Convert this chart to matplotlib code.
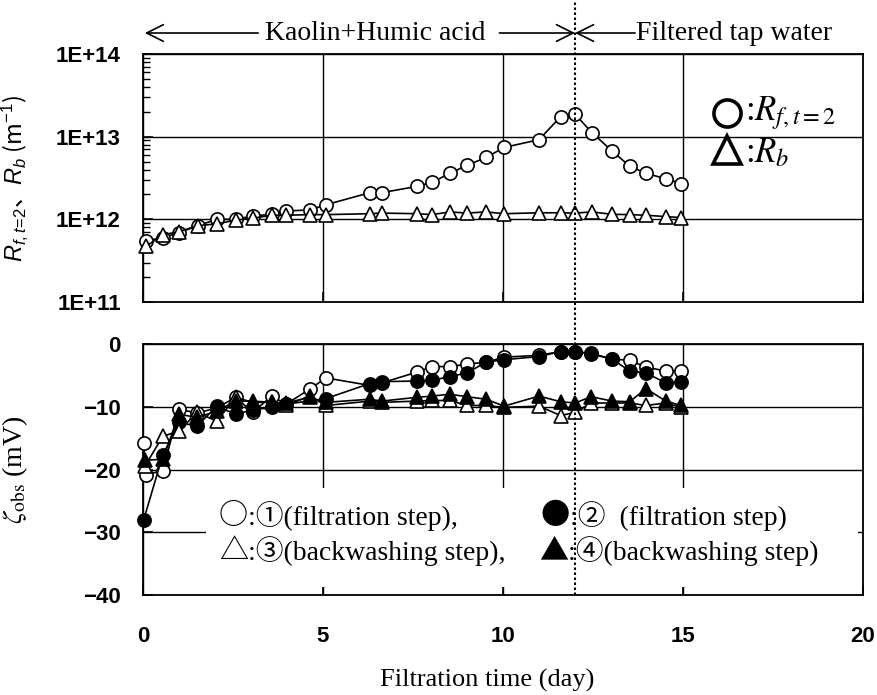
import numpy as np
import matplotlib
matplotlib.use("Agg")
import matplotlib.pyplot as plt
import matplotlib.transforms as mtransforms
from matplotlib.lines import Line2D
from matplotlib.patches import Rectangle
from matplotlib.ticker import LogLocator, NullFormatter

plt.rcParams['mathtext.rm'] = 'Liberation Sans'
plt.rcParams['mathtext.it'] = 'Liberation Sans:italic'
plt.rcParams['mathtext.bf'] = 'Liberation Sans:bold'
plt.rcParams['font.family'] = ['Liberation Sans', 'DejaVu Sans']

# ---------------- data ----------------
x_ticks = [0, 5, 10, 15, 20]
x_ticklabels = ['0', '5', '10', '15', '20']
r_ticks = [1e11, 1e12, 1e13, 1e14]
r_ticklabels = ['1E+11', '1E+12', '1E+13', '1E+14']
z_ticks = [-40, -30, -20, -10, 0]
z_ticklabels = ['\u221240', '\u221230', '\u221220', '\u221210', '0']

days_top = [0.08, 0.55, 1.0, 1.53, 2.05, 2.57, 3.05, 3.57, 3.97, 4.63, 5.08, 6.3, 6.63,
            7.6, 8.03, 8.52, 9.0, 9.53, 10.03, 11.0, 11.6, 12.0, 12.47, 13.03, 13.52,
            13.97, 14.52, 14.95]
Rf = [5.5e11, 6.0e11, 6.9e11, 8.4e11, 1.0e12, 1.0e12, 1.1e12, 1.15e12, 1.26e12, 1.3e12,
      1.5e12, 2.1e12, 2.1e12, 2.5e12, 2.8e12, 3.6e12, 4.5e12, 5.6e12, 7.4e12, 9.2e12,
      1.74e13, 1.87e13, 1.12e13, 6.7e12, 4.4e12, 3.6e12, 3.1e12, 2.7e12]
Rb = [4.7e11, 6.5e11, 7.1e11, 8.4e11, 8.8e11, 9.8e11, 1.03e12, 1.12e12, 1.12e12, 1.14e12,
      1.14e12, 1.17e12, 1.19e12, 1.17e12, 1.14e12, 1.23e12, 1.19e12, 1.23e12, 1.17e12,
      1.2e12, 1.2e12, 1.19e12, 1.23e12, 1.15e12, 1.14e12, 1.12e12, 1.08e12, 1.05e12]

days_s1 = [0.02, 0.08, 0.55, 1.0, 1.5, 2.05, 2.57, 3.05, 3.57, 3.97, 4.63, 5.08, 6.3, 6.63,
           7.6, 8.03, 8.52, 9.0, 9.53, 10.03, 11.0, 11.6, 12.0, 12.45, 13.03, 13.52, 13.97,
           14.52, 14.95]
zeta_s1 = [-15.7, -20.8, -20.2, -10.4, -11.0, -10.2, -8.5, -10.9, -8.3, -9.6, -7.2, -5.4,
           -6.6, -6.2, -4.5, -3.6, -3.6, -3.2, -2.9, -2.1, -1.8, -1.2, -1.2, -1.5, -2.4,
           -2.6, -3.7, -4.3, -4.3]

days_s2 = [0.02, 0.55, 1.0, 1.5, 2.05, 2.57, 3.05, 3.57, 3.97, 5.08, 6.3, 6.63, 7.6, 8.03,
           8.52, 9.0, 9.53, 10.03, 11.0, 11.6, 12.0, 12.45, 13.03, 13.52, 13.97, 14.52, 14.95]
zeta_s2 = [-28.0, -17.7, -12.5, -13.1, -9.9, -11.2, -10.5, -10.1, -9.6, -8.7, -6.3, -6.0,
           -5.9, -5.8, -5.2, -4.6, -2.9, -2.5, -2.0, -1.2, -1.2, -1.6, -2.4, -4.3, -4.6,
           -6.2, -6.1]

days_s34 = [0.05, 0.55, 1.0, 1.5, 2.05, 2.57, 3.05, 3.57, 3.97, 4.63, 5.08, 6.3, 6.63, 7.6,
            8.03, 8.52, 9.0, 9.53, 10.03, 11.0, 11.6, 12.0, 12.45, 13.03, 13.52, 13.97,
            14.52, 14.95]
zeta_s3 = [-19.5, -14.7, -13.9, -10.9, -12.3, -8.5, -9.3, -9.3, -9.8, -8.3, -9.8, -9.1,
           -9.3, -9.1, -9.0, -9.0, -9.8, -9.8, -10.1, -9.9, -11.4, -10.9, -9.4, -9.4, -9.4,
           -9.8, -9.4, -10.1]
zeta_s4 = [-18.5, -18.4, -11.2, -11.7, -10.7, -9.1, -9.1, -9.3, -9.4, -8.5, -9.3, -8.8,
           -9.1, -8.5, -8.3, -8.0, -8.4, -8.8, -9.9, -8.3, -9.2, -9.4, -8.4, -9.1, -9.2,
           -7.1, -9.1, -9.8]

switch_day = 12

# ---------------- figure ----------------
W, H = 878, 695
fig = plt.figure(figsize=(W / 100, H / 100), dpi=100)
ax1 = fig.add_axes([143 / W, 1 - 302 / H, 720 / W, 248 / H])
ax2 = fig.add_axes([143 / W, 1 - 595 / H, 720 / W, 251 / H])

def ftxt(x, y, s, **kw):
    return fig.text(x / W, 1 - y / H, s, **kw)

def fmark(x, y, marker, ms, **kw):
    fig.add_artist(Line2D([x / W], [1 - y / H], transform=fig.transFigure, marker=marker,
                          ms=ms, ls='none', **kw))

mk = dict(color='black', lw=1.2, mec='black', mew=1.2, clip_on=False)

# top panel
ax1.plot(days_top, Rf, marker='o', ms=9.5, mfc='white', zorder=3, **mk)
ax1.plot(days_top, Rb, marker='^', ms=10, mfc='white', zorder=4, **mk)
ax1.set_yscale('log')
ax1.set_ylim(1e11, 1e14)
ax1.set_xlim(0, 20)
ax1.set_yticks(r_ticks, labels=r_ticklabels, fontweight='bold', fontsize=16,
               fontfamily='Liberation Sans')
ax1.yaxis.set_minor_locator(LogLocator(base=10, subs=np.arange(2, 10), numticks=20))
ax1.yaxis.set_minor_formatter(NullFormatter())
ax1.set_xticks(x_ticks)
ax1.tick_params(axis='both', which='both', direction='in')
ax1.tick_params(axis='y', which='major', length=7, width=1.2, pad=16)
ax1.tick_params(axis='y', which='minor', length=5, width=1)
ax1.tick_params(axis='x', length=7, width=1.2, labelbottom=False)
ax1.grid(True, which='major', color='black', lw=1)
ax1.set_ylabel(r'$R_{f,t\!=\!2}$、$R_b$ (m$^{\mathrm{-1}}$)', fontsize=17,
               family='Noto Sans CJK JP', math_fontfamily='custom')
ax1.yaxis.set_label_coords((30 - 143) / 720, 0.5)

# bottom panel
ax2.plot(days_s1, zeta_s1, marker='o', ms=9.5, mfc='white', zorder=3, **mk)
ax2.plot(days_s2, zeta_s2, marker='o', ms=9.5, mfc='black', zorder=4, **mk)
ax2.plot(days_s34, zeta_s3, marker='^', ms=10, mfc='white', zorder=5, **mk)
ax2.plot(days_s34, zeta_s4, marker='^', ms=10, mfc='black', zorder=6, **mk)
ax2.set_xlim(0, 20)
ax2.set_ylim(-40, 0)
ax2.set_xticks(x_ticks, labels=x_ticklabels, fontweight='bold', fontsize=16,
               fontfamily='Liberation Sans')
ax2.set_yticks(z_ticks, labels=z_ticklabels, fontweight='bold', fontsize=16,
               fontfamily='Liberation Sans')
ax2.tick_params(axis='both', direction='in', length=7, width=1.2)
ax2.tick_params(axis='x', pad=22)
ax2.tick_params(axis='y', pad=16)
ax2.grid(True, color='black', lw=1)
ax2.set_ylabel(r'$\zeta_{\mathrm{obs}}$ (mV)', fontsize=20, family='Liberation Serif',
               math_fontfamily='stix')
ax2.yaxis.set_label_coords((30 - 143) / 720, 0.5)

for ax in (ax1, ax2):
    for sp in ax.spines.values():
        sp.set_linewidth(1.3)
        sp.set_color('black')

# legend box of bottom panel (white, hides grid)
ax2.add_patch(Rectangle((63 / 720, 8 / 251), 652 / 720, 99 / 251, transform=ax2.transAxes,
                        facecolor='white', edgecolor='none', zorder=2.6))
serif_cjk = ['Liberation Serif', 'Noto Sans CJK JP']
sym = dict(fontsize=21, family=['Noto Sans CJK JP'], va='center', zorder=7)
txt = dict(fontsize=20, family=serif_cjk, va='center', zorder=7)
ftxt(219, 516, '○', **sym)
ftxt(248, 516, ':①(filtration step),', **txt)
ftxt(541, 516, '●', **sym)
ftxt(570, 516, ':②  (filtration step)', **txt)
ftxt(219, 551, '△', **sym)
ftxt(248, 551, ':③(backwashing step),', **txt)
ftxt(539, 551, '▲', **sym)
ftxt(568, 551, ':④(backwashing step)', **txt)

# top-right legend
fmark(727, 113, 'o', 19.5, mfc='white', mec='black', mew=2.6)
fmark(727, 150, '^', 19.5, mfc='white', mec='black', mew=2.6)
ftxt(745, 120, r':$\mathit{R}_{\mathit{f,t=2}}$', fontsize=25, family='Liberation Serif',
     math_fontfamily='stix', va='baseline')
ftxt(745, 162, r':$\mathit{R}_{\mathit{b}}$', fontsize=25, family='Liberation Serif',
     math_fontfamily='stix', va='baseline')

# x label
ftxt(487, 680, 'Filtration time (day)', fontsize=19, family='Liberation Serif',
     ha='center', va='center')

# top annotation with arrows
trans = mtransforms.blended_transform_factory(ax1.transData, fig.transFigure)
y_arr = 1 - 33 / H
ap = dict(arrowstyle='->,head_length=0.6,head_width=0.3', lw=1.2, color='black',
          mutation_scale=20, shrinkA=0, shrinkB=0)
ax1.annotate('', xy=(0.05, y_arr), xytext=(3.2, y_arr), xycoords=trans, textcoords=trans,
             arrowprops=ap, annotation_clip=False)
ax1.annotate('', xy=(switch_day, y_arr), xytext=(9.9, y_arr), xycoords=trans,
             textcoords=trans, arrowprops=ap, annotation_clip=False)
ax1.annotate('', xy=(switch_day, y_arr), xytext=(13.67, y_arr), xycoords=trans,
             textcoords=trans, arrowprops=ap, annotation_clip=False)
ax1.text(6.45, y_arr, 'Kaolin+Humic acid', transform=trans, ha='center', va='center',
         fontsize=20, family='Liberation Serif')
ax1.text(13.7, y_arr, 'Filtered tap water', transform=trans, ha='left', va='center',
         fontsize=20, family='Liberation Serif')

# dotted separation line through both panels
fig.add_artist(Line2D([switch_day, switch_day], [1 - 595 / H, 1 - 1 / H], transform=trans,
                      color='black', lw=1.5, ls=(0, (1.2, 1.2)), zorder=10))

fig.savefig('out.png', dpi=100)
